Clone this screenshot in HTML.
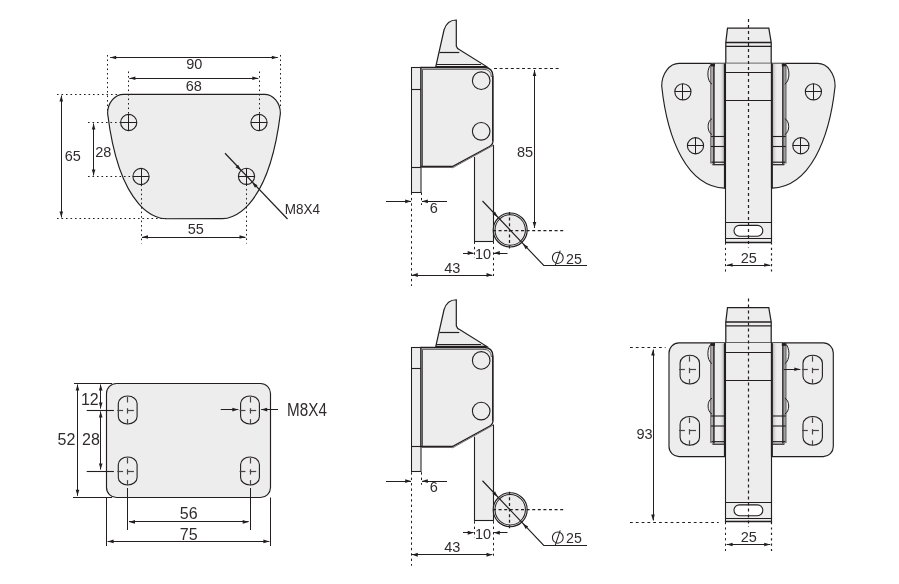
<!DOCTYPE html>
<html><head><meta charset="utf-8">
<style>
html,body{margin:0;padding:0;background:#fff;overflow:hidden;}
svg{display:block;will-change:transform;}
text{font-family:"Liberation Sans",sans-serif;fill:#302c2d;}
</style></head>
<body>
<svg width="899" height="584" viewBox="0 0 899 584">
<defs>
<linearGradient id="kg0" x1="0" x2="1" y1="0" y2="0"><stop offset="0" stop-color="#ededed" stop-opacity="0"/><stop offset="1" stop-color="#b8b6b6"/></linearGradient>
<linearGradient id="kg1" x1="1" x2="0" y1="0" y2="0"><stop offset="0" stop-color="#ededed" stop-opacity="0"/><stop offset="1" stop-color="#b8b6b6"/></linearGradient>
</defs>
<path d="M123.6 94.3L264.4 94.3C273.2 94.3 280.4 102.9 280.4 113.4C267.97 214.64 228.5 218.7 222.5 218.7L165.5 218.7C159.5 218.7 120.03 214.64 107.6 113.4C107.6 102.9 114.8 94.3 123.6 94.3Z" fill="#ededed" stroke="#231f20" stroke-width="1.15"/>
<circle cx="128.7" cy="122.5" r="8.1" fill="none" stroke="#231f20" stroke-width="1.1"/>
<path d="M120.6 122.5L136.8 122.5" stroke="#231f20" stroke-width="1.0"/>
<path d="M128.5 114.4L128.5 130.6" stroke="#231f20" stroke-width="1.0"/>
<circle cx="259" cy="122.5" r="8.1" fill="none" stroke="#231f20" stroke-width="1.1"/>
<path d="M250.9 122.5L267.1 122.5" stroke="#231f20" stroke-width="1.0"/>
<path d="M259.5 114.4L259.5 130.6" stroke="#231f20" stroke-width="1.0"/>
<circle cx="141" cy="176.5" r="8.1" fill="none" stroke="#231f20" stroke-width="1.1"/>
<path d="M132.9 176.5L149.1 176.5" stroke="#231f20" stroke-width="1.0"/>
<path d="M141.5 168.4L141.5 184.6" stroke="#231f20" stroke-width="1.0"/>
<circle cx="246.5" cy="176.3" r="8.1" fill="none" stroke="#231f20" stroke-width="1.1"/>
<path d="M238.4 176.5L254.6 176.5" stroke="#231f20" stroke-width="1.0"/>
<path d="M246.5 168.2L246.5 184.4" stroke="#231f20" stroke-width="1.0"/>
<path d="M107.5 55L107.5 112" stroke="#231f20" stroke-width="1.0" stroke-dasharray="1.6 2.9"/>
<path d="M280.5 55L280.5 109" stroke="#231f20" stroke-width="1.0" stroke-dasharray="1.6 2.9"/>
<path d="M128.5 71.5L128.5 114" stroke="#231f20" stroke-width="1.0" stroke-dasharray="1.6 2.9"/>
<path d="M259.5 71.5L259.5 114" stroke="#231f20" stroke-width="1.0" stroke-dasharray="1.6 2.9"/>
<path d="M57 94.5L122 94.5" stroke="#231f20" stroke-width="1.0" stroke-dasharray="1.6 2.9"/>
<path d="M57 218.5L166 218.5" stroke="#231f20" stroke-width="1.0" stroke-dasharray="1.6 2.9"/>
<path d="M88 122.5L120.5 122.5" stroke="#231f20" stroke-width="1.0" stroke-dasharray="1.6 2.9"/>
<path d="M88 176.5L133 176.5" stroke="#231f20" stroke-width="1.0" stroke-dasharray="1.6 2.9"/>
<path d="M141.5 184.6L141.5 243.5" stroke="#231f20" stroke-width="1.0" stroke-dasharray="1.6 2.9"/>
<path d="M246.5 184.4L246.5 243.5" stroke="#231f20" stroke-width="1.0" stroke-dasharray="1.6 2.9"/>
<path d="M110.2 57.5L277.8 57.5" stroke="#231f20" stroke-width="1.0"/>
<path d="M277.8 57.5L271.8 59.3L271.8 55.7Z" fill="#231f20"/>
<path d="M110.2 57.5L116.2 55.7L116.2 59.3Z" fill="#231f20"/>
<path d="M129.4 78.5L258.3 78.5" stroke="#231f20" stroke-width="1.0"/>
<path d="M258.3 78.3L252.3 80.1L252.3 76.5Z" fill="#231f20"/>
<path d="M129.4 78.3L135.4 76.5L135.4 80.1Z" fill="#231f20"/>
<path d="M61.5 95.5L61.5 217.5" stroke="#231f20" stroke-width="1.0"/>
<path d="M61.3 217.5L59.5 211.5L63.1 211.5Z" fill="#231f20"/>
<path d="M61.3 95.5L63.1 101.5L59.5 101.5Z" fill="#231f20"/>
<path d="M93.5 123.5L93.5 175.5" stroke="#231f20" stroke-width="1.0"/>
<path d="M93.6 175.5L91.8 169.5L95.4 169.5Z" fill="#231f20"/>
<path d="M93.6 123.5L95.4 129.5L91.8 129.5Z" fill="#231f20"/>
<path d="M142 237.5L245.5 237.5" stroke="#231f20" stroke-width="1.0"/>
<path d="M245.5 237L239.5 238.8L239.5 235.2Z" fill="#231f20"/>
<path d="M142 237L148 235.2L148 238.8Z" fill="#231f20"/>
<path d="M225 153.3L287.5 219" stroke="#231f20" stroke-width="1.25"/>
<path d="M240.91 170.43L235.51 167.26L238.15 164.81Z" fill="#231f20"/>
<path d="M252.09 182.17L257.54 185.25L254.95 187.75Z" fill="#231f20"/>
<text x="194.2" y="68.9" font-size="14.5" text-anchor="middle">90</text>
<text x="193.8" y="90.8" font-size="14.5" text-anchor="middle">68</text>
<text x="72.8" y="160.5" font-size="14.5" text-anchor="middle">65</text>
<text x="103.2" y="156.8" font-size="14.5" text-anchor="middle">28</text>
<text x="195.7" y="233.8" font-size="14.5" text-anchor="middle">55</text>
<text transform="translate(284.7 213.8) scale(0.9 1)" font-size="15" text-anchor="start">M8X4</text>
<path d="M435.8 66.6L444 30Q447 20 456.3 20L456.3 46Q457 49 460 50L486.6 66.6Z" fill="#ededed" stroke="#231f20" stroke-width="1.2"/>
<path d="M439.5 52.5L459.3 52.5" stroke="#231f20" stroke-width="1.2"/>
<path d="M436.3 64.5L481 64.5" stroke="#231f20" stroke-width="1.2"/>
<rect x="411.5" y="67.5" width="9.5" height="125" fill="#ededed" stroke="#231f20" stroke-width="1.05"/>
<path d="M411.5 89.5L421.5 89.5" stroke="#231f20" stroke-width="1.1"/>
<path d="M411.5 167.5L421.5 167.5" stroke="#231f20" stroke-width="1.1"/>
<path d="M474 150L493 140V241.5H474Z" fill="#ededed"/>
<path d="M474.5 157L474.5 241" stroke="#231f20" stroke-width="1.1"/>
<path d="M474 241.5L493.5 241.5" stroke="#231f20" stroke-width="1.1"/>
<path d="M421 67.5H484Q493 67.5 493 76.5V141Q493 144.5 489.5 146.5L452.4 166.5H421Z" fill="#ededed" stroke="#231f20" stroke-width="1.3"/>
<path d="M483.5 69.3Q491.2 69.3 491.4 77" fill="none" stroke="#4a4647" stroke-width="0.9"/>
<path d="M422.5 166V69.3H484" fill="none" stroke="#4a4647" stroke-width="0.9"/>
<path d="M492.6 76L492.6 141" stroke="#231f20" stroke-width="1.0"/>
<path d="M452.4 167.5L421.5 167.5" stroke="#6a6667" stroke-width="1.0"/>
<path d="M493.8 145L452.4 167.9" fill="none" stroke="#6a6667" stroke-width="1.0"/>
<path d="M493.5 145L493.5 241.5" stroke="#231f20" stroke-width="1.1"/>
<circle cx="481.2" cy="80.7" r="8.8" fill="none" stroke="#231f20" stroke-width="1.1"/>
<circle cx="481.2" cy="131.3" r="8.8" fill="none" stroke="#231f20" stroke-width="1.1"/>
<circle cx="510.2" cy="230" r="17" fill="#ededed" stroke="#231f20" stroke-width="1.15"/>
<circle cx="510.2" cy="230" r="15.2" fill="none" stroke="#231f20" stroke-width="1.05"/>
<path d="M509.5 212L509.5 249" stroke="#231f20" stroke-width="1.25" stroke-dasharray="3 2.6"/>
<path d="M493 230.5L563.75 230.5" stroke="#231f20" stroke-width="1.25" stroke-dasharray="3 2.6"/>
<path d="M411.5 192.5L411.5 286" stroke="#231f20" stroke-width="1.0" stroke-dasharray="2.4 3"/>
<path d="M421.5 192.5L421.5 205" stroke="#231f20" stroke-width="1.0" stroke-dasharray="2.4 3"/>
<path d="M474.5 241.5L474.5 258" stroke="#231f20" stroke-width="1.0" stroke-dasharray="2.4 3"/>
<path d="M493.5 241.5L493.5 276" stroke="#231f20" stroke-width="1.0" stroke-dasharray="2.4 3"/>
<path d="M386 201.5L411 201.5" stroke="#231f20" stroke-width="1.0"/>
<path d="M411 201.3L405.2 203.2L405.2 199.4Z" fill="#231f20"/>
<path d="M447 201.5L422 201.5" stroke="#231f20" stroke-width="1.0"/>
<path d="M422 201.3L427.8 199.4L427.8 203.2Z" fill="#231f20"/>
<path d="M463 253.5L473.5 253.5" stroke="#231f20" stroke-width="1.0"/>
<path d="M473.5 253L467.7 254.9L467.7 251.1Z" fill="#231f20"/>
<path d="M507.5 253.5L494 253.5" stroke="#231f20" stroke-width="1.0"/>
<path d="M494 253L499.8 251.1L499.8 254.9Z" fill="#231f20"/>
<path d="M412 275.5L492.3 275.5" stroke="#231f20" stroke-width="1.0"/>
<path d="M492.3 275L486.5 276.9L486.5 273.1Z" fill="#231f20"/>
<path d="M412 275L417.8 273.1L417.8 276.9Z" fill="#231f20"/>
<path d="M482.5 201L543.75 265.5H587" fill="none" stroke="#231f20" stroke-width="1.15"/>
<path d="M497.8 217.2L492.37 214.07L494.99 211.6Z" fill="#231f20"/>
<path d="M522.8 243.7L528.26 246.78L525.66 249.27Z" fill="#231f20"/>
<text x="433.7" y="212.7" font-size="14.5" text-anchor="middle">6</text>
<text x="483" y="258.75" font-size="14.5" text-anchor="middle">10</text>
<text x="452.2" y="272.6" font-size="14.5" text-anchor="middle">43</text>
<ellipse cx="557.8" cy="257.8" rx="5.4" ry="5.6" fill="none" stroke="#231f20" stroke-width="1.05"/>
<path d="M560.2 250.6L555.2 265.6" stroke="#231f20" stroke-width="1.05"/>
<text x="566" y="263.6" font-size="14.2" text-anchor="start">25</text>
<path d="M494 68.5L560.5 68.5" stroke="#231f20" stroke-width="1.0" stroke-dasharray="3 2.6"/>
<path d="M534.5 70L534.5 228" stroke="#231f20" stroke-width="1.0"/>
<path d="M534.5 228L532.7 222L536.3 222Z" fill="#231f20"/>
<path d="M534.5 70L536.3 76L532.7 76Z" fill="#231f20"/>
<text x="525" y="156.7" font-size="14.5" text-anchor="middle">85</text>
<path d="M435.8 346.35L444 309.75Q447 299.75 456.3 299.75L456.3 325.75Q457 328.75 460 329.75L486.6 346.35Z" fill="#ededed" stroke="#231f20" stroke-width="1.2"/>
<path d="M439.5 332.5L459.3 332.5" stroke="#231f20" stroke-width="1.2"/>
<path d="M436.3 344.5L481 344.5" stroke="#231f20" stroke-width="1.2"/>
<rect x="411.5" y="347.5" width="9.5" height="124" fill="#ededed" stroke="#231f20" stroke-width="1.05"/>
<path d="M411.5 368.5L421.5 368.5" stroke="#231f20" stroke-width="1.1"/>
<path d="M411.5 446.5L421.5 446.5" stroke="#231f20" stroke-width="1.1"/>
<path d="M474 429.75L493 419.75V520.5H474Z" fill="#ededed"/>
<path d="M474.5 436.75L474.5 520.75" stroke="#231f20" stroke-width="1.1"/>
<path d="M474 520.5L493.5 520.5" stroke="#231f20" stroke-width="1.1"/>
<path d="M421 347.5H484Q493 347.5 493 356.5V420.75Q493 424.25 489.5 426.25L452.4 446.5H421Z" fill="#ededed" stroke="#231f20" stroke-width="1.3"/>
<path d="M483.5 349.3Q491.2 349.3 491.4 357" fill="none" stroke="#4a4647" stroke-width="0.9"/>
<path d="M422.5 446V349.3H484" fill="none" stroke="#4a4647" stroke-width="0.9"/>
<path d="M492.6 355.75L492.6 420.75" stroke="#231f20" stroke-width="1.0"/>
<path d="M452.4 447.5L421.5 447.5" stroke="#6a6667" stroke-width="1.0"/>
<path d="M493.8 424.75L452.4 447.9" fill="none" stroke="#6a6667" stroke-width="1.0"/>
<path d="M493.5 424.75L493.5 521.25" stroke="#231f20" stroke-width="1.1"/>
<circle cx="481.2" cy="360.45" r="8.8" fill="none" stroke="#231f20" stroke-width="1.1"/>
<circle cx="481.2" cy="411.05" r="8.8" fill="none" stroke="#231f20" stroke-width="1.1"/>
<circle cx="510.2" cy="509.75" r="17" fill="#ededed" stroke="#231f20" stroke-width="1.15"/>
<circle cx="510.2" cy="509.75" r="15.2" fill="none" stroke="#231f20" stroke-width="1.05"/>
<path d="M509.5 491.75L509.5 528.75" stroke="#231f20" stroke-width="1.25" stroke-dasharray="3 2.6"/>
<path d="M493 509.5L563.75 509.5" stroke="#231f20" stroke-width="1.25" stroke-dasharray="3 2.6"/>
<path d="M411.5 472.25L411.5 565.75" stroke="#231f20" stroke-width="1.0" stroke-dasharray="2.4 3"/>
<path d="M421.5 472.25L421.5 484.75" stroke="#231f20" stroke-width="1.0" stroke-dasharray="2.4 3"/>
<path d="M474.5 521.25L474.5 537.75" stroke="#231f20" stroke-width="1.0" stroke-dasharray="2.4 3"/>
<path d="M493.5 521.25L493.5 555.75" stroke="#231f20" stroke-width="1.0" stroke-dasharray="2.4 3"/>
<path d="M386 481.5L411 481.5" stroke="#231f20" stroke-width="1.0"/>
<path d="M411 481.05L405.2 482.95L405.2 479.15Z" fill="#231f20"/>
<path d="M447 481.5L422 481.5" stroke="#231f20" stroke-width="1.0"/>
<path d="M422 481.05L427.8 479.15L427.8 482.95Z" fill="#231f20"/>
<path d="M463 532.5L473.5 532.5" stroke="#231f20" stroke-width="1.0"/>
<path d="M473.5 532.75L467.7 534.65L467.7 530.85Z" fill="#231f20"/>
<path d="M507.5 532.5L494 532.5" stroke="#231f20" stroke-width="1.0"/>
<path d="M494 532.75L499.8 530.85L499.8 534.65Z" fill="#231f20"/>
<path d="M412 554.5L492.3 554.5" stroke="#231f20" stroke-width="1.0"/>
<path d="M492.3 554.75L486.5 556.65L486.5 552.85Z" fill="#231f20"/>
<path d="M412 554.75L417.8 552.85L417.8 556.65Z" fill="#231f20"/>
<path d="M482.5 480.75L543.75 545.5H587" fill="none" stroke="#231f20" stroke-width="1.15"/>
<path d="M497.8 496.95L492.37 493.82L494.99 491.35Z" fill="#231f20"/>
<path d="M522.8 523.45L528.24 526.56L525.63 529.04Z" fill="#231f20"/>
<text x="433.7" y="492.45" font-size="14.5" text-anchor="middle">6</text>
<text x="483" y="538.5" font-size="14.5" text-anchor="middle">10</text>
<text x="452.2" y="552.35" font-size="14.5" text-anchor="middle">43</text>
<ellipse cx="557.8" cy="537.55" rx="5.4" ry="5.6" fill="none" stroke="#231f20" stroke-width="1.05"/>
<path d="M560.2 530.35L555.2 545.35" stroke="#231f20" stroke-width="1.05"/>
<text x="566" y="543.35" font-size="14.2" text-anchor="start">25</text>
<path d="M772.1 188.1C809.58 186.79 829.46 139.7 835.1 86C835.1 73.6 827.3 63.4 817.8 63.4L679 63.4C669.5 63.4 661.7 73.6 661.7 86C667.34 139.7 687.22 186.79 724.7 188.1Z" fill="#ededed" stroke="#231f20" stroke-width="1.15"/>
<circle cx="682.9" cy="91.8" r="8.1" fill="none" stroke="#231f20" stroke-width="1.1"/>
<path d="M674.8 91.5L691 91.5" stroke="#231f20" stroke-width="1.0"/>
<path d="M682.5 83.7L682.5 99.9" stroke="#231f20" stroke-width="1.0"/>
<circle cx="813.4" cy="91.8" r="8.1" fill="none" stroke="#231f20" stroke-width="1.1"/>
<path d="M805.3 91.5L821.5 91.5" stroke="#231f20" stroke-width="1.0"/>
<path d="M813.5 83.7L813.5 99.9" stroke="#231f20" stroke-width="1.0"/>
<circle cx="695.5" cy="145.75" r="8.1" fill="none" stroke="#231f20" stroke-width="1.1"/>
<path d="M687.4 145.5L703.6 145.5" stroke="#231f20" stroke-width="1.0"/>
<path d="M695.5 137.65L695.5 153.85" stroke="#231f20" stroke-width="1.0"/>
<circle cx="800.9" cy="145.75" r="8.1" fill="none" stroke="#231f20" stroke-width="1.1"/>
<path d="M792.8 145.5L809 145.5" stroke="#231f20" stroke-width="1.0"/>
<path d="M800.5 137.65L800.5 153.85" stroke="#231f20" stroke-width="1.0"/>
<path d="M727.5 28.2H768.8L771.2 42.5V63.4H725.8V42.5Z" fill="#ededed" stroke="#231f20" stroke-width="1.25"/>
<path d="M725.8 42.5L771.2 42.5" stroke="#231f20" stroke-width="1.5"/>
<path d="M725.8 46.3L771.2 46.3" stroke="#231f20" stroke-width="1.2"/>
<rect x="725.5" y="63.4" width="45.5" height="179" fill="#ededed"/>
<path d="M725.5 63.4L725.5 242.4" stroke="#231f20" stroke-width="1.1"/>
<path d="M771.5 63.4L771.5 242.4" stroke="#231f20" stroke-width="1.15"/>
<path d="M725 242.5L771.5 242.5" stroke="#231f20" stroke-width="1.3"/>
<path d="M725.6 72.5L771.2 72.5" stroke="#231f20" stroke-width="1.1"/>
<path d="M725.6 100.5L771.2 100.5" stroke="#231f20" stroke-width="1.1"/>
<path d="M725.6 222.5L771.2 222.5" stroke="#231f20" stroke-width="1.2"/>
<path d="M725.6 238.5L771.2 238.5" stroke="#231f20" stroke-width="1.2"/>
<rect x="734" y="225.4" width="28.8" height="10.8" rx="5.4" ry="5.4" fill="#fff" stroke="#231f20" stroke-width="1.1"/>
<rect x="711" y="63.6" width="14" height="101.2" fill="#ededed"/>
<rect x="719" y="64" width="5" height="100" fill="url(#kg0)"/>
<path d="M710.9 63.6L710.9 163.5" stroke="#3a3637" stroke-width="1.0"/>
<path d="M712.3 63.6L712.3 164.8" stroke="#8a8687" stroke-width="0.8"/>
<path d="M713.9 63.6L713.9 164" stroke="#231f20" stroke-width="1.5"/>
<path d="M724.9 63.6L724.9 188.4" stroke="#231f20" stroke-width="2.0"/>
<path d="M711 136.5L724 136.5" stroke="#231f20" stroke-width="1.1"/>
<path d="M711 146.5L724 146.5" stroke="#231f20" stroke-width="1.1"/>
<path d="M711.5 162.2L724 162.2" stroke="#231f20" stroke-width="1.2"/>
<path d="M712.5 164.7L724 164.7" stroke="#231f20" stroke-width="1.2"/>
<rect x="711" y="63.6" width="4" height="2.8" fill="#231f20"/>
<path d="M712 63.8C706.5 67 706.5 81 712 84.2" fill="none" stroke="#231f20" stroke-width="1.0"/>
<path d="M712 118.7C706.8 121 706.8 132 712 134.6" fill="none" stroke="#231f20" stroke-width="1.0"/>
<rect x="771.8" y="63.6" width="14" height="101.2" fill="#ededed"/>
<rect x="772.8" y="64" width="5" height="100" fill="url(#kg1)"/>
<path d="M785.9 63.6L785.9 163.5" stroke="#3a3637" stroke-width="1.0"/>
<path d="M784.5 63.6L784.5 164.8" stroke="#8a8687" stroke-width="0.8"/>
<path d="M782.9 63.6L782.9 164" stroke="#231f20" stroke-width="1.5"/>
<path d="M771.9 63.6L771.9 188.4" stroke="#231f20" stroke-width="2.0"/>
<path d="M785.8 136.5L772.8 136.5" stroke="#231f20" stroke-width="1.1"/>
<path d="M785.8 146.5L772.8 146.5" stroke="#231f20" stroke-width="1.1"/>
<path d="M785.3 162.2L772.8 162.2" stroke="#231f20" stroke-width="1.2"/>
<path d="M784.3 164.7L772.8 164.7" stroke="#231f20" stroke-width="1.2"/>
<rect x="781.8" y="63.6" width="4" height="2.8" fill="#231f20"/>
<path d="M784.8 63.8C790.3 67 790.3 81 784.8 84.2" fill="none" stroke="#231f20" stroke-width="1.0"/>
<path d="M784.8 118.7C790 121 790 132 784.8 134.6" fill="none" stroke="#231f20" stroke-width="1.0"/>
<path d="M748.5 19.1L748.5 247.6" stroke="#231f20" stroke-width="1.2" stroke-dasharray="3 3"/>
<path d="M725.5 242.4L725.5 272" stroke="#231f20" stroke-width="1.0" stroke-dasharray="2.2 3.2"/>
<path d="M771.5 242.4L771.5 272" stroke="#231f20" stroke-width="1.2" stroke-dasharray="2.2 3.2"/>
<path d="M726.6 265.5L770.2 265.5" stroke="#231f20" stroke-width="1.0"/>
<path d="M770.2 265L764.2 266.8L764.2 263.2Z" fill="#231f20"/>
<path d="M726.6 265L732.6 263.2L732.6 266.8Z" fill="#231f20"/>
<text x="748.7" y="263" font-size="14.5" text-anchor="middle">25</text>
<rect x="106.5" y="383.5" width="164" height="114" rx="10" ry="10" fill="#ededed" stroke="#231f20" stroke-width="1.15"/>
<rect x="118.3" y="396" width="18.8" height="28" rx="9.4" ry="7.52" fill="none" stroke="#231f20" stroke-width="1.1"/>
<path d="M127.5 397L127.5 402.5" stroke="#4a4647" stroke-width="1.2"/>
<path d="M127.5 408.2L127.5 413.6" stroke="#4a4647" stroke-width="1.2"/>
<path d="M127.5 419.1L127.5 424.2" stroke="#4a4647" stroke-width="1.2"/>
<path d="M117.3 410.5L123.1 410.5" stroke="#4a4647" stroke-width="1.2"/>
<path d="M127.4 410.5L133.9 410.5" stroke="#4a4647" stroke-width="1.2"/>
<rect x="118.3" y="457" width="18.8" height="28" rx="9.4" ry="7.52" fill="none" stroke="#231f20" stroke-width="1.1"/>
<path d="M127.5 458L127.5 463.5" stroke="#4a4647" stroke-width="1.2"/>
<path d="M127.5 469.2L127.5 474.6" stroke="#4a4647" stroke-width="1.2"/>
<path d="M127.5 480.1L127.5 485.2" stroke="#4a4647" stroke-width="1.2"/>
<path d="M117.3 471.5L123.1 471.5" stroke="#4a4647" stroke-width="1.2"/>
<path d="M127.4 471.5L133.9 471.5" stroke="#4a4647" stroke-width="1.2"/>
<rect x="240.6" y="396" width="18.8" height="28" rx="9.4" ry="7.52" fill="none" stroke="#231f20" stroke-width="1.1"/>
<path d="M250.5 397L250.5 402.5" stroke="#4a4647" stroke-width="1.2"/>
<path d="M250.5 408.2L250.5 413.6" stroke="#4a4647" stroke-width="1.2"/>
<path d="M250.5 419.1L250.5 424.2" stroke="#4a4647" stroke-width="1.2"/>
<path d="M239.6 410.5L245.4 410.5" stroke="#4a4647" stroke-width="1.2"/>
<path d="M249.7 410.5L256.2 410.5" stroke="#4a4647" stroke-width="1.2"/>
<rect x="240.6" y="457" width="18.8" height="28" rx="9.4" ry="7.52" fill="none" stroke="#231f20" stroke-width="1.1"/>
<path d="M250.5 458L250.5 463.5" stroke="#4a4647" stroke-width="1.2"/>
<path d="M250.5 469.2L250.5 474.6" stroke="#4a4647" stroke-width="1.2"/>
<path d="M250.5 480.1L250.5 485.2" stroke="#4a4647" stroke-width="1.2"/>
<path d="M239.6 471.5L245.4 471.5" stroke="#4a4647" stroke-width="1.2"/>
<path d="M249.7 471.5L256.2 471.5" stroke="#4a4647" stroke-width="1.2"/>
<path d="M74 383.5L112 383.5" stroke="#231f20" stroke-width="1.0"/>
<path d="M73 497.5L112 497.5" stroke="#231f20" stroke-width="1.0"/>
<path d="M77.5 384.5L77.5 495.8" stroke="#231f20" stroke-width="1.0"/>
<path d="M77.5 495.8L75.7 489.8L79.3 489.8Z" fill="#231f20"/>
<path d="M77.5 384.5L79.3 390.5L75.7 390.5Z" fill="#231f20"/>
<path d="M100.5 384.5L100.5 408.6" stroke="#231f20" stroke-width="1.0"/>
<path d="M100.7 408.6L98.9 402.6L102.5 402.6Z" fill="#231f20"/>
<path d="M100.7 384.5L102.5 390.5L98.9 390.5Z" fill="#231f20"/>
<path d="M100.5 411.4L100.5 469.6" stroke="#231f20" stroke-width="1.0"/>
<path d="M100.7 469.6L98.9 463.6L102.5 463.6Z" fill="#231f20"/>
<path d="M100.7 411.4L102.5 417.4L98.9 417.4Z" fill="#231f20"/>
<path d="M86.7 410.5L113.9 410.5" stroke="#231f20" stroke-width="1.1"/>
<path d="M86.7 471.5L113.9 471.5" stroke="#231f20" stroke-width="1.1"/>
<path d="M127.5 488L127.5 530" stroke="#231f20" stroke-width="1.0"/>
<path d="M250.5 488L250.5 530" stroke="#231f20" stroke-width="1.0"/>
<path d="M106.5 497.5L106.5 546" stroke="#231f20" stroke-width="1.0"/>
<path d="M270.5 497.5L270.5 546" stroke="#231f20" stroke-width="1.0"/>
<path d="M129 521.5L248.7 521.5" stroke="#231f20" stroke-width="1.0"/>
<path d="M248.7 521.9L242.7 523.7L242.7 520.1Z" fill="#231f20"/>
<path d="M129 521.9L135 520.1L135 523.7Z" fill="#231f20"/>
<path d="M107.6 541.5L269.4 541.5" stroke="#231f20" stroke-width="1.0"/>
<path d="M269.4 541.4L263.4 543.2L263.4 539.6Z" fill="#231f20"/>
<path d="M107.6 541.4L113.6 539.6L113.6 543.2Z" fill="#231f20"/>
<path d="M220.75 409.5L238.3 409.5" stroke="#231f20" stroke-width="1.0"/>
<path d="M238.3 409.6L232.3 411.4L232.3 407.8Z" fill="#231f20"/>
<path d="M278 409.5L261.2 409.5" stroke="#231f20" stroke-width="1.0"/>
<path d="M261.2 409.6L267.2 407.8L267.2 411.4Z" fill="#231f20"/>
<text x="89.8" y="405.1" font-size="16" text-anchor="middle">12</text>
<text x="91" y="445.4" font-size="16" text-anchor="middle">28</text>
<text x="75.4" y="445.4" font-size="16" text-anchor="end">52</text>
<text x="188.7" y="519" font-size="16" text-anchor="middle">56</text>
<text x="188.7" y="539.7" font-size="16" text-anchor="middle">75</text>
<text transform="translate(287.1 415.6) scale(0.87 1)" font-size="17.5" text-anchor="start">M8X4</text>
<rect x="669" y="342.9" width="164.3" height="113.7" rx="10" ry="10" fill="#ededed" stroke="#231f20" stroke-width="1.15"/>
<rect x="680.1" y="355.2" width="19.4" height="28.8" rx="9.7" ry="7.76" fill="none" stroke="#231f20" stroke-width="1.1"/>
<path d="M689.5 356.2L689.5 361.7" stroke="#4a4647" stroke-width="1.2"/>
<path d="M689.5 367.8L689.5 373.2" stroke="#4a4647" stroke-width="1.2"/>
<path d="M689.5 379.1L689.5 384.2" stroke="#4a4647" stroke-width="1.2"/>
<path d="M679.1 369.5L684.9 369.5" stroke="#4a4647" stroke-width="1.2"/>
<path d="M689.5 369.5L696 369.5" stroke="#4a4647" stroke-width="1.2"/>
<rect x="803" y="355.2" width="19.4" height="28.8" rx="9.7" ry="7.76" fill="none" stroke="#231f20" stroke-width="1.1"/>
<path d="M812.5 356.2L812.5 361.7" stroke="#4a4647" stroke-width="1.2"/>
<path d="M812.5 367.8L812.5 373.2" stroke="#4a4647" stroke-width="1.2"/>
<path d="M812.5 379.1L812.5 384.2" stroke="#4a4647" stroke-width="1.2"/>
<path d="M802 369.5L807.8 369.5" stroke="#4a4647" stroke-width="1.2"/>
<path d="M812.4 369.5L818.9 369.5" stroke="#4a4647" stroke-width="1.2"/>
<rect x="680.1" y="416.5" width="19.4" height="28.8" rx="9.7" ry="7.76" fill="none" stroke="#231f20" stroke-width="1.1"/>
<path d="M689.5 417.5L689.5 423" stroke="#4a4647" stroke-width="1.2"/>
<path d="M689.5 429.1L689.5 434.5" stroke="#4a4647" stroke-width="1.2"/>
<path d="M689.5 440.4L689.5 445.5" stroke="#4a4647" stroke-width="1.2"/>
<path d="M679.1 430.5L684.9 430.5" stroke="#4a4647" stroke-width="1.2"/>
<path d="M689.5 430.5L696 430.5" stroke="#4a4647" stroke-width="1.2"/>
<rect x="803" y="416.5" width="19.4" height="28.8" rx="9.7" ry="7.76" fill="none" stroke="#231f20" stroke-width="1.1"/>
<path d="M812.5 417.5L812.5 423" stroke="#4a4647" stroke-width="1.2"/>
<path d="M812.5 429.1L812.5 434.5" stroke="#4a4647" stroke-width="1.2"/>
<path d="M812.5 440.4L812.5 445.5" stroke="#4a4647" stroke-width="1.2"/>
<path d="M802 430.5L807.8 430.5" stroke="#4a4647" stroke-width="1.2"/>
<path d="M812.4 430.5L818.9 430.5" stroke="#4a4647" stroke-width="1.2"/>
<path d="M727.5 307.7H768.8L771.2 322V342.9H725.8V322Z" fill="#ededed" stroke="#231f20" stroke-width="1.25"/>
<path d="M725.8 322L771.2 322" stroke="#231f20" stroke-width="1.5"/>
<path d="M725.8 325.8L771.2 325.8" stroke="#231f20" stroke-width="1.2"/>
<rect x="725.5" y="342.9" width="45.5" height="179" fill="#ededed"/>
<path d="M725.5 342.9L725.5 521.9" stroke="#231f20" stroke-width="1.1"/>
<path d="M771.5 342.9L771.5 521.9" stroke="#231f20" stroke-width="1.15"/>
<path d="M725 521.5L771.5 521.5" stroke="#231f20" stroke-width="1.3"/>
<path d="M725.6 352.5L771.2 352.5" stroke="#231f20" stroke-width="1.1"/>
<path d="M725.6 380.5L771.2 380.5" stroke="#231f20" stroke-width="1.1"/>
<path d="M725.6 502.5L771.2 502.5" stroke="#231f20" stroke-width="1.2"/>
<path d="M725.6 518.5L771.2 518.5" stroke="#231f20" stroke-width="1.2"/>
<rect x="734" y="504.9" width="28.8" height="10.8" rx="5.4" ry="5.4" fill="#fff" stroke="#231f20" stroke-width="1.1"/>
<rect x="711" y="343.1" width="14" height="101.2" fill="#ededed"/>
<rect x="719" y="343.5" width="5" height="100" fill="url(#kg0)"/>
<path d="M710.9 343.1L710.9 443" stroke="#3a3637" stroke-width="1.0"/>
<path d="M712.3 343.1L712.3 444.3" stroke="#8a8687" stroke-width="0.8"/>
<path d="M713.9 343.1L713.9 443.5" stroke="#231f20" stroke-width="1.5"/>
<path d="M724.9 343.1L724.9 456.6" stroke="#231f20" stroke-width="2.0"/>
<path d="M711 416L724 416" stroke="#231f20" stroke-width="1.1"/>
<path d="M711 426L724 426" stroke="#231f20" stroke-width="1.1"/>
<path d="M711.5 441.7L724 441.7" stroke="#231f20" stroke-width="1.2"/>
<path d="M712.5 444.2L724 444.2" stroke="#231f20" stroke-width="1.2"/>
<rect x="711" y="343.1" width="4" height="2.8" fill="#231f20"/>
<path d="M712 343.3C706.5 346.5 706.5 360.5 712 363.7" fill="none" stroke="#231f20" stroke-width="1.0"/>
<path d="M712 398.2C706.8 400.5 706.8 411.5 712 414.1" fill="none" stroke="#231f20" stroke-width="1.0"/>
<rect x="771.8" y="343.1" width="14" height="101.2" fill="#ededed"/>
<rect x="772.8" y="343.5" width="5" height="100" fill="url(#kg1)"/>
<path d="M785.9 343.1L785.9 443" stroke="#3a3637" stroke-width="1.0"/>
<path d="M784.5 343.1L784.5 444.3" stroke="#8a8687" stroke-width="0.8"/>
<path d="M782.9 343.1L782.9 443.5" stroke="#231f20" stroke-width="1.5"/>
<path d="M771.9 343.1L771.9 456.6" stroke="#231f20" stroke-width="2.0"/>
<path d="M785.8 416L772.8 416" stroke="#231f20" stroke-width="1.1"/>
<path d="M785.8 426L772.8 426" stroke="#231f20" stroke-width="1.1"/>
<path d="M785.3 441.7L772.8 441.7" stroke="#231f20" stroke-width="1.2"/>
<path d="M784.3 444.2L772.8 444.2" stroke="#231f20" stroke-width="1.2"/>
<rect x="781.8" y="343.1" width="4" height="2.8" fill="#231f20"/>
<path d="M784.8 343.3C790.3 346.5 790.3 360.5 784.8 363.7" fill="none" stroke="#231f20" stroke-width="1.0"/>
<path d="M784.8 398.2C790 400.5 790 411.5 784.8 414.1" fill="none" stroke="#231f20" stroke-width="1.0"/>
<path d="M748.5 298.6L748.5 527.1" stroke="#231f20" stroke-width="1.2" stroke-dasharray="3 3"/>
<path d="M783.75 369.5L800.3 369.5" stroke="#231f20" stroke-width="1.0"/>
<path d="M800.3 369.3L794.3 371.1L794.3 367.5Z" fill="#231f20"/>
<path d="M630 347.5L665.6 347.5" stroke="#231f20" stroke-width="1.2" stroke-dasharray="2.8 3"/>
<path d="M630 522.5L718.75 522.5" stroke="#231f20" stroke-width="1.2" stroke-dasharray="2.8 3"/>
<path d="M653.5 349.5L653.5 520.5" stroke="#231f20" stroke-width="1.0"/>
<path d="M653 520.5L651.2 514.5L654.8 514.5Z" fill="#231f20"/>
<path d="M653 349.5L654.8 355.5L651.2 355.5Z" fill="#231f20"/>
<text x="644.5" y="438.8" font-size="14.5" text-anchor="middle">93</text>
<path d="M725.5 522L725.5 551" stroke="#231f20" stroke-width="1.0" stroke-dasharray="2.2 3.2"/>
<path d="M771.5 522L771.5 551" stroke="#231f20" stroke-width="1.2" stroke-dasharray="2.2 3.2"/>
<path d="M726.6 544.5L770.2 544.5" stroke="#231f20" stroke-width="1.0"/>
<path d="M770.2 544.5L764.2 546.3L764.2 542.7Z" fill="#231f20"/>
<path d="M726.6 544.5L732.6 542.7L732.6 546.3Z" fill="#231f20"/>
<text x="748.7" y="542.2" font-size="14.5" text-anchor="middle">25</text>
</svg>
</body></html>
